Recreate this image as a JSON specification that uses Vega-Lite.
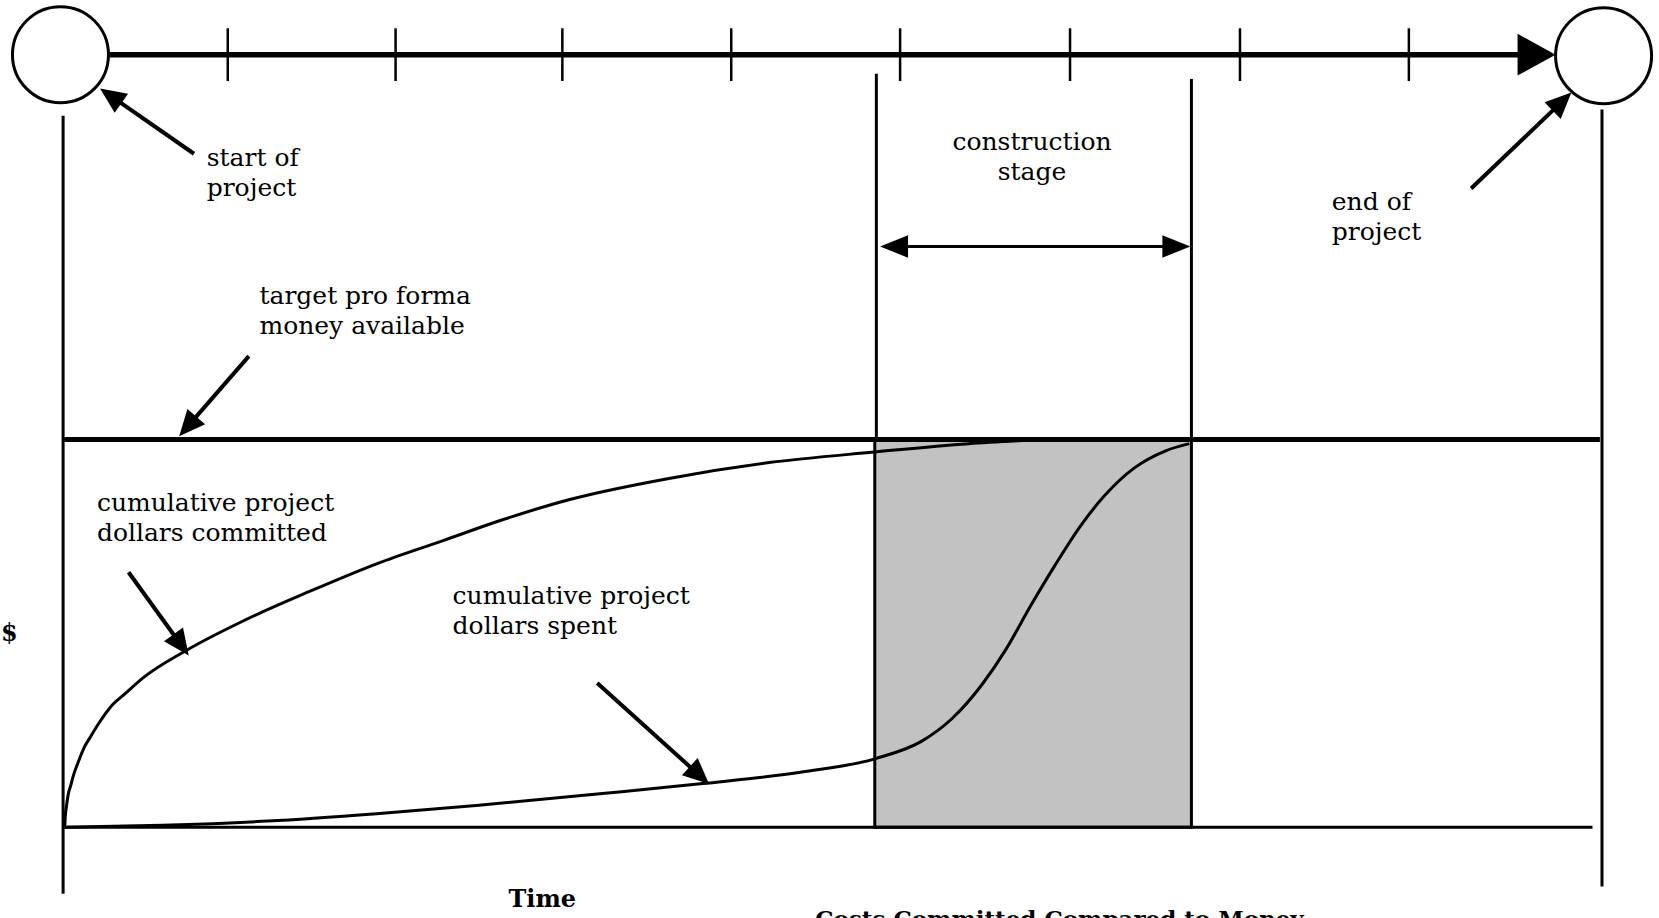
{
  "$schema": "https://vega.github.io/schema/vega-lite/v6.json",
  "width": 1659,
  "height": 918,
  "autosize": {"type": "fit", "contains": "padding"},
  "padding": 0,
  "background": "white",
  "config": {"view": {"stroke": null}},
  "datasets": {
    "zone": [{"x": 825, "x2": 1125, "y": 414, "y2": 782}],
    "curves": [
      {"series": "committed", "x": 57.5, "y": 782},
      {"series": "committed", "x": 58.2, "y": 770},
      {"series": "committed", "x": 59.3, "y": 761},
      {"series": "committed", "x": 61, "y": 750},
      {"series": "committed", "x": 63, "y": 743},
      {"series": "committed", "x": 66, "y": 732},
      {"series": "committed", "x": 70, "y": 721},
      {"series": "committed", "x": 75.6, "y": 707},
      {"series": "committed", "x": 82, "y": 696},
      {"series": "committed", "x": 90, "y": 683},
      {"series": "committed", "x": 100.8, "y": 668},
      {"series": "committed", "x": 115, "y": 655},
      {"series": "committed", "x": 132, "y": 640},
      {"series": "committed", "x": 173, "y": 614},
      {"series": "committed", "x": 227, "y": 586},
      {"series": "committed", "x": 290, "y": 558},
      {"series": "committed", "x": 353, "y": 532},
      {"series": "committed", "x": 416, "y": 510},
      {"series": "committed", "x": 473, "y": 490},
      {"series": "committed", "x": 536, "y": 471},
      {"series": "committed", "x": 630, "y": 451},
      {"series": "committed", "x": 725, "y": 436},
      {"series": "committed", "x": 824, "y": 426},
      {"series": "committed", "x": 914, "y": 418},
      {"series": "committed", "x": 965, "y": 415},
      {"series": "spent", "x": 57.5, "y": 782},
      {"series": "spent", "x": 150, "y": 780},
      {"series": "spent", "x": 250, "y": 776},
      {"series": "spent", "x": 353, "y": 769},
      {"series": "spent", "x": 450, "y": 761},
      {"series": "spent", "x": 567, "y": 750},
      {"series": "spent", "x": 662, "y": 740.5},
      {"series": "spent", "x": 756, "y": 729.5},
      {"series": "spent", "x": 825, "y": 717},
      {"series": "spent", "x": 870, "y": 700},
      {"series": "spent", "x": 898, "y": 679},
      {"series": "spent", "x": 927, "y": 646},
      {"series": "spent", "x": 950, "y": 612},
      {"series": "spent", "x": 972, "y": 573},
      {"series": "spent", "x": 996, "y": 533},
      {"series": "spent", "x": 1020, "y": 496},
      {"series": "spent", "x": 1043, "y": 467},
      {"series": "spent", "x": 1071, "y": 441},
      {"series": "spent", "x": 1100, "y": 425},
      {"series": "spent", "x": 1123, "y": 418}
    ],
    "segments": [
      {"kind": "timeline", "x": 98, "y": 49, "x2": 1452, "y2": 49},
      {"kind": "tick", "x": 212, "y": 24, "x2": 212, "y2": 74},
      {"kind": "tick", "x": 371, "y": 24, "x2": 371, "y2": 74},
      {"kind": "tick", "x": 529, "y": 24, "x2": 529, "y2": 74},
      {"kind": "tick", "x": 689, "y": 24, "x2": 689, "y2": 74},
      {"kind": "tick", "x": 849, "y": 24, "x2": 849, "y2": 74},
      {"kind": "tick", "x": 1010, "y": 24, "x2": 1010, "y2": 74},
      {"kind": "tick", "x": 1171, "y": 24, "x2": 1171, "y2": 74},
      {"kind": "tick", "x": 1331, "y": 24, "x2": 1331, "y2": 74},
      {"kind": "frame", "x": 56, "y": 107, "x2": 56, "y2": 845},
      {"kind": "frame", "x": 1514, "y": 101, "x2": 1514, "y2": 838},
      {"kind": "frame", "x": 826.5, "y": 67, "x2": 826.5, "y2": 414},
      {"kind": "frame", "x": 1125, "y": 72, "x2": 1125, "y2": 414},
      {"kind": "target", "x": 55, "y": 414, "x2": 1512, "y2": 414},
      {"kind": "base", "x": 57, "y": 782, "x2": 1505, "y2": 782},
      {"kind": "pointer", "x": 180, "y": 143, "x2": 100.8, "y2": 87.9},
      {"kind": "pointer", "x": 1390, "y": 176, "x2": 1476.3, "y2": 93.3},
      {"kind": "pointer", "x": 232, "y": 335, "x2": 173.9, "y2": 401.9},
      {"kind": "pointer", "x": 118, "y": 540, "x2": 168, "y2": 609.3},
      {"kind": "pointer", "x": 562, "y": 645, "x2": 659.1, "y2": 732.9},
      {"kind": "span", "x": 845, "y": 231, "x2": 1109, "y2": 231}
    ],
    "heads": [
      {"arrow": "start", "x": 91, "y": 81},
      {"arrow": "end", "x": 1485, "y": 85},
      {"arrow": "target", "x": 166, "y": 411},
      {"arrow": "committed", "x": 175, "y": 619},
      {"arrow": "spent", "x": 668, "y": 741},
      {"arrow": "timeline", "x": 1470, "y": 49},
      {"arrow": "spanL", "x": 830, "y": 231},
      {"arrow": "spanR", "x": 1124, "y": 231}
    ],
    "circles": [
      {"event": "start of project", "x": 53.5, "y": 49},
      {"event": "end of project", "x": 1515.5, "y": 50}
    ],
    "notes": [
      {"lines": ["start of", "project"], "x": 192, "y": 155},
      {"lines": ["end of", "project"], "x": 1258, "y": 196},
      {"lines": ["target pro forma", "money available"], "x": 242, "y": 286},
      {"lines": ["cumulative project", "dollars committed"], "x": 88, "y": 482},
      {"lines": ["cumulative project", "dollars spent"], "x": 425, "y": 570}
    ],
    "stage": [{"lines": ["construction", "stage"], "x": 974, "y": 139}],
    "ylabel": [{"label": "$", "x": 5, "y": 599}],
    "xlabel": [{"label": "Time", "x": 510, "y": 858}],
    "caption": [{"label": "Costs Committed Compared to Money", "x": 1000, "y": 877}]
  },
  "encoding": {
    "x": {"field": "x", "type": "quantitative", "scale": {"domain": [0, 1568], "nice": false, "zero": false}, "axis": null},
    "y": {"field": "y", "type": "quantitative", "scale": {"domain": [0, 868], "reverse": true, "nice": false, "zero": false}, "axis": null}
  },
  "layer": [
    {
      "data": {"name": "zone"},
      "mark": {"type": "rect", "fill": "#c2c2c2", "stroke": "black", "strokeWidth": 3},
      "encoding": {"x2": {"field": "x2"}, "y2": {"field": "y2"}}
    },
    {
      "data": {"name": "curves"},
      "mark": {"type": "line", "interpolate": "monotone", "color": "black", "strokeWidth": 3},
      "encoding": {"detail": {"field": "series", "type": "nominal"}}
    },
    {
      "data": {"name": "segments"},
      "transform": [{"filter": "datum.kind === 'timeline'"}],
      "mark": {"type": "rule", "color": "black", "strokeWidth": 5.5},
      "encoding": {"x2": {"field": "x2"}, "y2": {"field": "y2"}}
    },
    {
      "data": {"name": "segments"},
      "transform": [{"filter": "datum.kind === 'tick'"}],
      "mark": {"type": "rule", "color": "black", "strokeWidth": 2.5},
      "encoding": {"x2": {"field": "x2"}, "y2": {"field": "y2"}}
    },
    {
      "data": {"name": "segments"},
      "transform": [{"filter": "datum.kind === 'frame' || datum.kind === 'base'"}],
      "mark": {"type": "rule", "color": "black", "strokeWidth": 3},
      "encoding": {"x2": {"field": "x2"}, "y2": {"field": "y2"}}
    },
    {
      "data": {"name": "segments"},
      "transform": [{"filter": "datum.kind === 'target'"}],
      "mark": {"type": "rule", "color": "black", "strokeWidth": 5},
      "encoding": {"x2": {"field": "x2"}, "y2": {"field": "y2"}}
    },
    {
      "data": {"name": "segments"},
      "transform": [{"filter": "datum.kind === 'pointer'"}],
      "mark": {"type": "rule", "color": "black", "strokeWidth": 4},
      "encoding": {"x2": {"field": "x2"}, "y2": {"field": "y2"}}
    },
    {
      "data": {"name": "segments"},
      "transform": [{"filter": "datum.kind === 'span'"}],
      "mark": {"type": "rule", "color": "black", "strokeWidth": 3},
      "encoding": {"x2": {"field": "x2"}, "y2": {"field": "y2"}}
    },
    {
      "data": {"name": "heads"},
      "transform": [{"filter": "datum.arrow === 'start'"}],
      "mark": {"type": "point", "shape": "M0,0L-2,-0.9L-2,0.9Z", "size": 676, "angle": -145.1, "filled": true, "color": "black", "opacity": 1}
    },
    {
      "data": {"name": "heads"},
      "transform": [{"filter": "datum.arrow === 'end'"}],
      "mark": {"type": "point", "shape": "M0,0L-2,-0.9L-2,0.9Z", "size": 676, "angle": -43.8, "filled": true, "color": "black", "opacity": 1}
    },
    {
      "data": {"name": "heads"},
      "transform": [{"filter": "datum.arrow === 'target'"}],
      "mark": {"type": "point", "shape": "M0,0L-2,-0.9L-2,0.9Z", "size": 676, "angle": 131, "filled": true, "color": "black", "opacity": 1}
    },
    {
      "data": {"name": "heads"},
      "transform": [{"filter": "datum.arrow === 'committed'"}],
      "mark": {"type": "point", "shape": "M0,0L-2,-0.9L-2,0.9Z", "size": 676, "angle": 54.2, "filled": true, "color": "black", "opacity": 1}
    },
    {
      "data": {"name": "heads"},
      "transform": [{"filter": "datum.arrow === 'spent'"}],
      "mark": {"type": "point", "shape": "M0,0L-2,-0.9L-2,0.9Z", "size": 676, "angle": 42.2, "filled": true, "color": "black", "opacity": 1}
    },
    {
      "data": {"name": "heads"},
      "transform": [{"filter": "datum.arrow === 'timeline'"}],
      "mark": {"type": "point", "shape": "M0,0L-2,-1.1L-2,1.1Z", "size": 1444, "angle": 0, "filled": true, "color": "black", "opacity": 1}
    },
    {
      "data": {"name": "heads"},
      "transform": [{"filter": "datum.arrow === 'spanL'"}],
      "mark": {"type": "point", "shape": "M0,0L-2,-0.8L-2,0.8Z", "size": 784, "angle": 180, "filled": true, "color": "black", "opacity": 1}
    },
    {
      "data": {"name": "heads"},
      "transform": [{"filter": "datum.arrow === 'spanR'"}],
      "mark": {"type": "point", "shape": "M0,0L-2,-0.8L-2,0.8Z", "size": 784, "angle": 0, "filled": true, "color": "black", "opacity": 1}
    },
    {
      "data": {"name": "circles"},
      "mark": {"type": "point", "shape": "circle", "size": 9216, "filled": true, "fill": "white", "stroke": "black", "strokeWidth": 3, "opacity": 1}
    },
    {
      "data": {"name": "notes"},
      "mark": {"type": "text", "align": "left", "baseline": "alphabetic", "font": "DejaVu Serif", "fontSize": 25, "lineHeight": 30, "color": "black"},
      "encoding": {"text": {"field": "lines", "type": "nominal"}}
    },
    {
      "data": {"name": "stage"},
      "mark": {"type": "text", "align": "center", "baseline": "alphabetic", "font": "DejaVu Serif", "fontSize": 25, "lineHeight": 30, "color": "black"},
      "encoding": {"text": {"field": "lines", "type": "nominal"}}
    },
    {
      "data": {"name": "ylabel"},
      "mark": {"type": "text", "align": "center", "baseline": "middle", "font": "DejaVu Serif", "fontSize": 24, "fontWeight": "bold", "color": "black"},
      "encoding": {"text": {"field": "label", "type": "nominal"}}
    },
    {
      "data": {"name": "xlabel"},
      "mark": {"type": "text", "align": "center", "baseline": "alphabetic", "font": "DejaVu Serif", "fontSize": 24, "fontWeight": "bold", "color": "black"},
      "encoding": {"text": {"field": "label", "type": "nominal"}}
    },
    {
      "data": {"name": "caption"},
      "mark": {"type": "text", "align": "center", "baseline": "alphabetic", "font": "DejaVu Serif", "fontSize": 23, "fontWeight": "bold", "color": "black", "clip": true},
      "encoding": {"text": {"field": "label", "type": "nominal"}}
    }
  ]
}
